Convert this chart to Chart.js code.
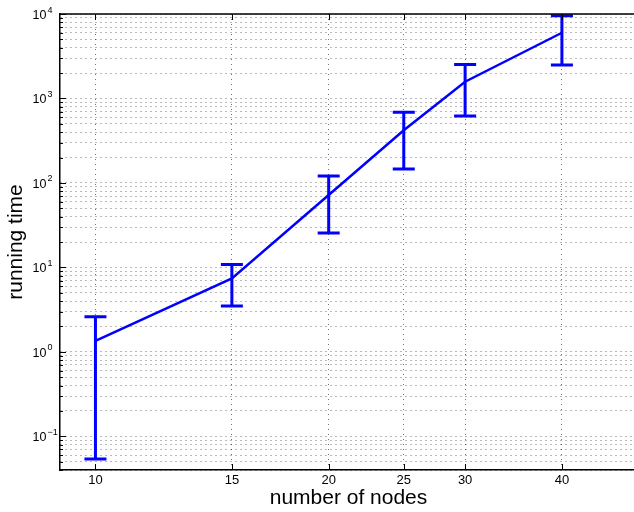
<!DOCTYPE html>
<html>
<head>
<meta charset="utf-8">
<script src="https://cdn.jsdelivr.net/npm/chart.js@4/dist/chart.umd.min.js"></script>
<style>
  html, body { margin: 0; padding: 0; background: #fff; overflow: hidden; }
  canvas { display: block; }
</style>
</head>
<body>
<canvas id="timeChart" width="640" height="512"></canvas>
<script>
// data
const nodes = [10, 15, 20, 25, 30, 40];
const meanTime = [1.35, 7.4, 72, 420, 1580, 6000];
const upperTime = [2.6, 10.8, 121, 685, 2530, 9550];
const lowerTime = [0.054, 3.5, 25.5, 146, 620, 2490];

const yMajorExp = [-1, 0, 1, 2, 3, 4];
const yMin = 0.04, yMax = 10000;
const xMin = 9, xMax = 50;

const FONT = "'Liberation Sans', Arial, Helvetica, sans-serif";
const BLUE = "#0000ff";

// y ticks: 1..9 x 10^e inside the range
function yTickList() {
    const out = [];
    for (let e = -2; e <= 4; e++) {
        for (let k = 1; k <= 9; k++) {
            const v = +(k * Math.pow(10, e)).toPrecision(3);
            if (v >= yMin && v <= yMax) out.push({ value: v, major: k === 1 });
        }
    }
    return out;
}

// error bars, inward ticks, top border and 10^n labels
const extras = {
    id: "extras",
    afterDatasetsDraw(chart) {
        const ctx = chart.ctx, xs = chart.scales.x, ys = chart.scales.y;
        ctx.save();
        ctx.strokeStyle = BLUE;
        ctx.lineWidth = 3;
        ctx.lineCap = "butt";
        nodes.forEach((n, i) => {
            const x = xs.getPixelForValue(n);
            const y1 = ys.getPixelForValue(upperTime[i]);
            const y2 = ys.getPixelForValue(lowerTime[i]);
            ctx.beginPath();
            ctx.moveTo(x, y1); ctx.lineTo(x, y2);
            ctx.moveTo(x - 11, y1); ctx.lineTo(x + 11, y1);
            ctx.moveTo(x - 11, y2); ctx.lineTo(x + 11, y2);
            ctx.stroke();
        });
        ctx.restore();
    },
    afterDraw(chart) {
        const ctx = chart.ctx, a = chart.chartArea;
        const xs = chart.scales.x, ys = chart.scales.y;
        ctx.save();
        ctx.strokeStyle = "#000";
        ctx.lineWidth = 1.5;
        ctx.beginPath();
        ctx.moveTo(a.left - 0.75, a.top); ctx.lineTo(a.right, a.top);
        ctx.stroke();

        ctx.lineWidth = 1;
        ctx.beginPath();
        ys.ticks.forEach(t => {
            const y = Math.round(ys.getPixelForValue(t.value)) + 0.5;
            const len = t.major ? 6 : 3;
            ctx.moveTo(a.left, y); ctx.lineTo(a.left + len, y);
        });
        xs.ticks.forEach(t => {
            const x = Math.round(xs.getPixelForValue(t.value)) + 0.5;
            ctx.moveTo(x, a.bottom); ctx.lineTo(x, a.bottom - 6);
            ctx.moveTo(x, a.top); ctx.lineTo(x, a.top + 6);
        });
        ctx.stroke();

        // y labels as 10 with superscript exponent
        ctx.fillStyle = "#000";
        ctx.textBaseline = "alphabetic";
        ctx.textAlign = "left";
        yMajorExp.forEach(e => {
            const y = ys.getPixelForValue(Math.pow(10, e));
            ctx.font = "12.5px " + FONT;
            ctx.fillText("10", 32.5, y + 4.7);
            const w = ctx.measureText("10").width;
            ctx.font = "9px " + FONT;
            ctx.fillText(e < 0 ? "\u2212" + Math.abs(e) : String(e), 32.5 + w + 1, y - 1.5);
        });
        ctx.restore();
    }
};

const ctx = document.getElementById("timeChart").getContext("2d");
const timeChart = new Chart(ctx, {
    type: "line",
    data: {
        datasets: [{
            label: "running time",
            data: nodes.map((n, i) => ({ x: n, y: meanTime[i] })),
            borderColor: BLUE,
            borderWidth: 2.5,
            pointRadius: 0,
            tension: 0,
            fill: false
        }]
    },
    options: {
        responsive: false,
        animation: false,
        events: [],
        layout: { padding: { top: 14, right: 3, left: 0, bottom: 0 } },
        plugins: { legend: { display: false }, tooltip: { enabled: false } },
        scales: {
            x: {
                type: "logarithmic",
                min: xMin, max: xMax,
                afterBuildTicks: s => { s.ticks = nodes.map(v => ({ value: v })); },
                afterFit: s => { s.height = 42; },
                ticks: {
                    callback: v => String(v),
                    color: "#000",
                    font: { family: FONT, size: 13 },
                    padding: 3,
                    maxRotation: 0,
                    autoSkip: false
                },
                grid: { color: "rgba(0,0,0,0.55)", lineWidth: 1, drawTicks: false },
                border: { display: true, color: "#000", width: 1.5, dash: [1, 4] },
                title: {
                    display: true,
                    text: "number of nodes",
                    color: "#000",
                    font: { family: FONT, size: 21 },
                    padding: { top: 0, bottom: 1 }
                }
            },
            y: {
                type: "logarithmic",
                min: yMin, max: yMax,
                afterBuildTicks: s => { s.ticks = yTickList(); },
                afterFit: s => { s.width = 60; },
                ticks: { display: false },
                grid: { color: "rgba(0,0,0,0.55)", lineWidth: 1, drawTicks: false },
                border: { display: true, color: "#000", width: 1.5, dash: [1, 4] },
                title: {
                    display: true,
                    text: "running time",
                    color: "#000",
                    font: { family: FONT, size: 21 },
                    padding: { top: 4, bottom: 0 }
                }
            }
        }
    },
    plugins: [extras]
});
</script>
</body>
</html>
